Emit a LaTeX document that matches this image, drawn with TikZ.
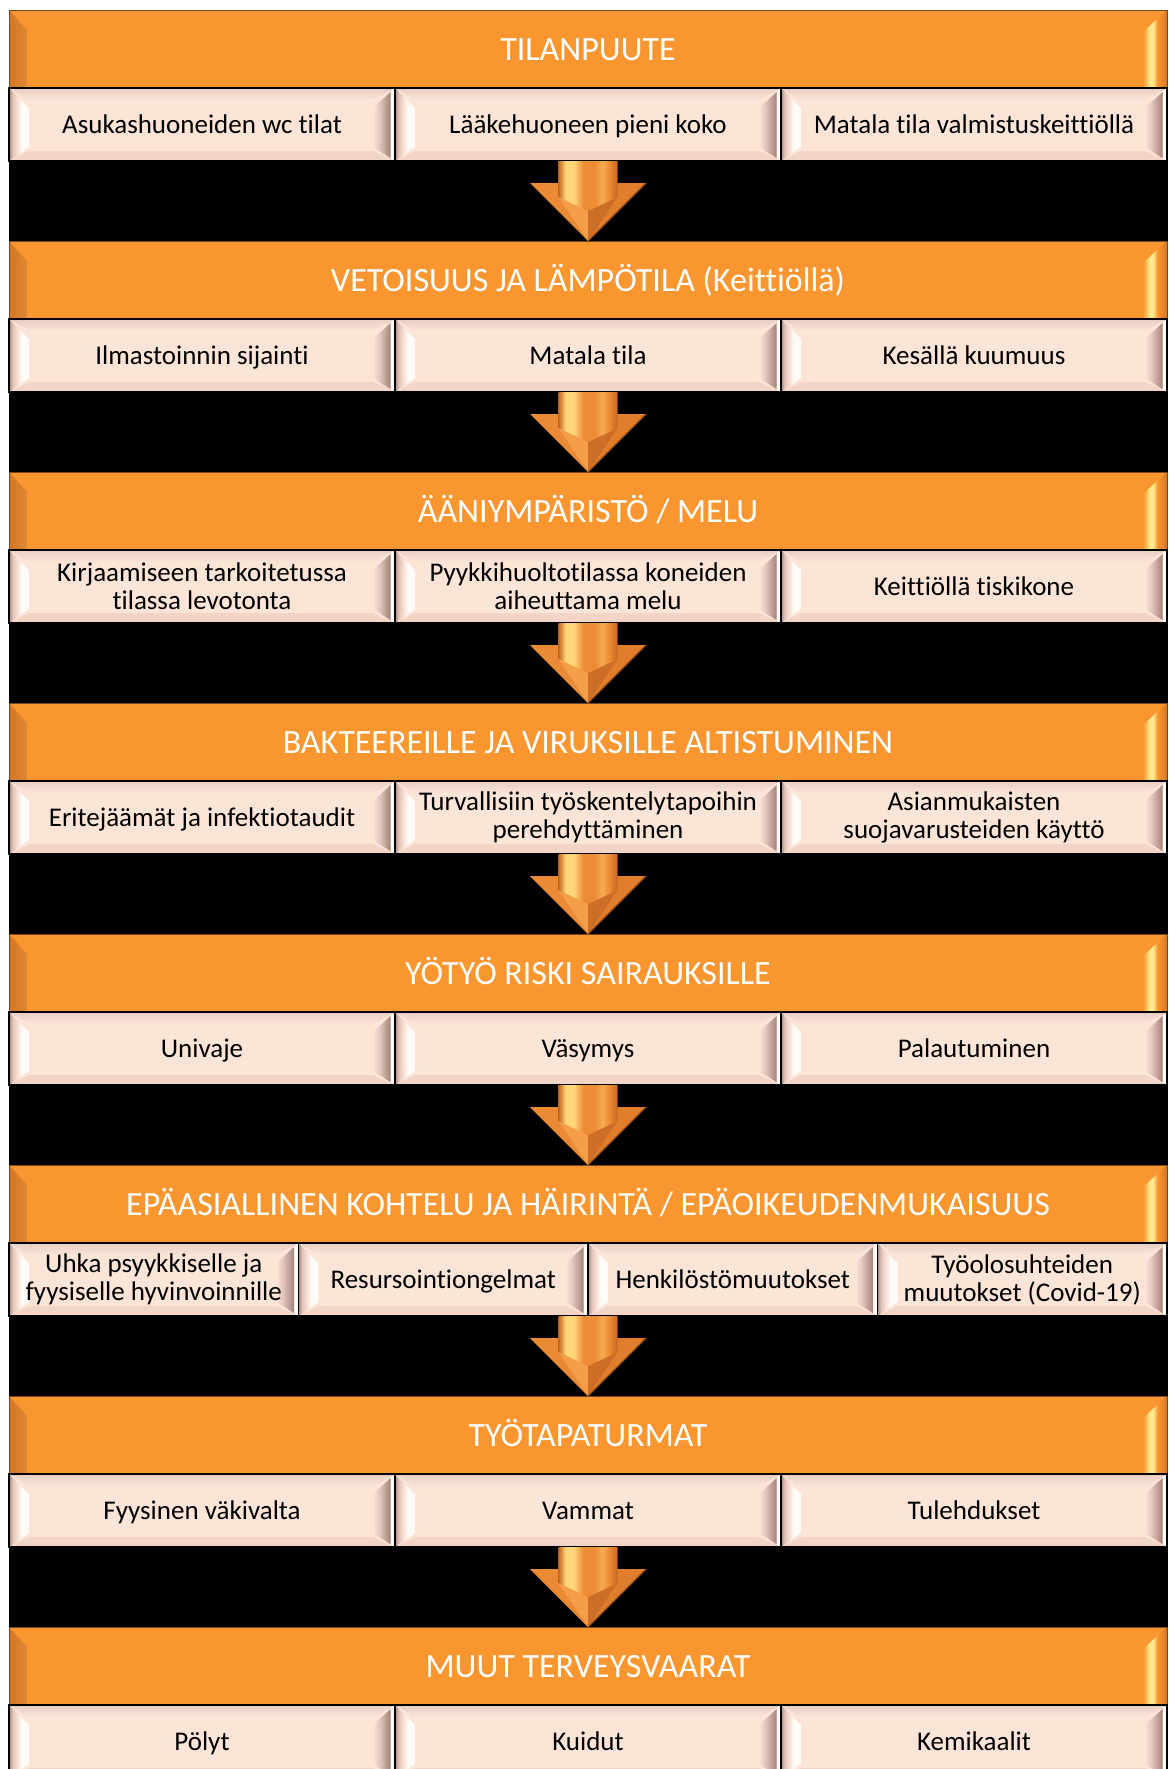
\documentclass[tikz,border=0pt]{standalone}
\usepackage{fontspec}
\setmainfont{Carlito}[Ligatures=NoCommon]
\usetikzlibrary{calc}

% palette
\definecolor{hdrorange}{RGB}{250,150,48}
\definecolor{hdrdark}{RGB}{214,118,36}
\definecolor{hdrlight}{RGB}{255,233,140}
\definecolor{hdrsoft}{RGB}{252,196,96}
\definecolor{hdredge}{RGB}{120,70,30}
\definecolor{boxpink}{RGB}{252,228,215}
\definecolor{cellgrey}{RGB}{168,136,126}
\definecolor{cellmid}{RGB}{226,196,186}
\definecolor{celltop}{RGB}{232,206,196}
\definecolor{cellbot}{RGB}{243,213,200}
\definecolor{cellhi}{RGB}{255,251,248}
\definecolor{arrowdark}{RGB}{196,102,34}
\definecolor{arrowlight}{RGB}{255,214,122}
\definecolor{arrowmid}{RGB}{236,140,52}
\definecolor{arrowsoft}{RGB}{246,172,86}
\definecolor{headleft}{RGB}{234,138,52}
\definecolor{headright}{RGB}{224,126,44}
\definecolor{facetlight}{RGB}{244,158,74}
\definecolor{facetdark}{RGB}{204,110,40}
\definecolor{arrowedge}{RGB}{150,78,26}

% bevel shadings (the 25bp..75bp band spans the filled path)
\pgfdeclarehorizontalshading{hdrleft}{100bp}{color(0bp)=(hdrdark); color(25bp)=(hdrdark); color(30bp)=(hdrlight); color(44bp)=(hdrlight); color(62bp)=(hdrsoft); color(75bp)=(hdrorange); color(100bp)=(hdrorange)}
\pgfdeclarehorizontalshading{hdrright}{100bp}{color(0bp)=(hdrorange); color(25bp)=(hdrorange); color(33bp)=(hdrsoft); color(38bp)=(hdrlight); color(46bp)=(hdrlight); color(55bp)=(hdrorange); color(75bp)=(hdrdark); color(100bp)=(hdrdark)}
\pgfdeclarehorizontalshading{cellleft}{100bp}{color(0bp)=(cellgrey); color(25bp)=(cellgrey); color(34bp)=(cellmid); color(48bp)=(boxpink); color(56bp)=(cellhi); color(75bp)=(cellhi); color(100bp)=(cellhi)}
\pgfdeclarehorizontalshading{cellright}{100bp}{color(0bp)=(boxpink); color(25bp)=(boxpink); color(40bp)=(cellmid); color(63bp)=(cellgrey); color(65bp)=(cellhi); color(75bp)=(cellhi); color(100bp)=(cellhi)}
\pgfdeclarehorizontalshading{shaftshade}{100bp}{color(0bp)=(arrowdark); color(25bp)=(arrowdark); color(31bp)=(arrowlight); color(38bp)=(arrowlight); color(46bp)=(arrowmid); color(56bp)=(arrowmid); color(62bp)=(arrowsoft); color(68bp)=(arrowmid); color(75bp)=(arrowdark); color(100bp)=(arrowdark)}

\tikzset{
  hdr/.style={draw=hdredge, line width=0.8pt, fill=hdrorange,
    minimum width=1158pt, minimum height=78pt, inner sep=0pt, outer sep=0pt,
    anchor=north west, text=white, font=\fontsize{34}{40}\selectfont,
    text height=22pt, text depth=0pt,
    path picture={
      \shade[shading=hdrleft] let \p1=(path picture bounding box.north west),
        \p2=(path picture bounding box.south east) in
        (\x1,\y1) -- (\x1+18pt,\y1-20pt) -- (\x1+18pt,\y2) -- (\x1,\y2) -- cycle;
      \shade[shading=hdrright] let \p1=(path picture bounding box.north west),
        \p2=(path picture bounding box.south east) in
        (\x2,\y1) -- (\x2-24pt,\y1-22pt) -- (\x2-24pt,\y2) -- (\x2,\y2) -- cycle;
    }},
  cell/.style={draw=black, line width=1.2pt, fill=boxpink,
    minimum height=73pt, inner sep=0pt, outer sep=0pt,
    anchor=north west, align=center, text=black,
    font=\fontsize{27}{28}\selectfont,
    path picture={
      \fill[cellbot] let \p1=(path picture bounding box.north west),
        \p2=(path picture bounding box.south east) in
        (\x1,\y2) -- (\x2,\y2) -- (\x2-22pt,\y2+10pt) -- (\x1+20pt,\y2+10pt) -- cycle;
      \shade[top color=celltop, bottom color=boxpink] let \p1=(path picture bounding box.north west),
        \p2=(path picture bounding box.south east) in
        (\x1,\y1) -- (\x2,\y1) -- (\x2-22pt,\y1-12pt) -- (\x1+20pt,\y1-12pt) -- cycle;
      \shade[shading=cellleft] let \p1=(path picture bounding box.north west),
        \p2=(path picture bounding box.south east) in
        (\x1,\y1) -- (\x1+20pt,\y1-20pt) -- (\x1+20pt,\y2+14pt) -- (\x1,\y2) -- cycle;
      \shade[shading=cellright] let \p1=(path picture bounding box.north west),
        \p2=(path picture bounding box.south east) in
        (\x2,\y1) -- (\x2-22pt,\y1-20pt) -- (\x2-22pt,\y2+14pt) -- (\x2,\y2) -- cycle;
    }},
  cellthree/.style={cell, minimum width=386pt},
  cellfour/.style={cell, minimum width=289.5pt},
  oneline/.style={text height=17.5pt, text depth=0pt},
}

% bevelled block arrow from a row's lower edge (#1) down to the next header (#2)
\newcommand{\flowarrow}[2]{%
  \fill[headleft] ($(#2.north)+(-58pt,58pt)$) -- ($(#2.north)+(0pt,58pt)$) -- (#2.north) -- cycle;
  \fill[headright] ($(#2.north)+(0pt,58pt)$) -- ($(#2.north)+(58pt,58pt)$) -- (#2.north) -- cycle;
  \fill[facetlight] ($(#2.north)+(-29.5pt,44pt)$) -- ($(#2.north)+(0pt,30pt)$) -- (#2.north) -- cycle;
  \fill[facetdark] ($(#2.north)+(29.5pt,44pt)$) -- ($(#2.north)+(0pt,30pt)$) -- (#2.north) -- cycle;
  \draw[arrowedge, line width=1.2pt] ($(#2.north)+(58pt,58pt)$) -- (#2.north);
  \shade[shading=shaftshade] ($(#1)+(-29.5pt,0pt)$) -- ($(#1)+(29.5pt,0pt)$)
    -- ($(#2.north)+(29.5pt,44pt)$) -- ($(#2.north)+(0pt,30pt)$)
    -- ($(#2.north)+(-29.5pt,44pt)$) -- cycle;
}

\begin{document}
\begin{tikzpicture}[x=1pt,y=-1pt]
\useasboundingbox (0,0) rectangle (1168,1769);
\clip (0,0) rectangle (1168,1769);
\fill[black] (9,10) rectangle (1168,1769);

% 1
\node[hdr] (h1) at (9,10) {TILANPUUTE};
\node[cellthree,oneline] (c1a) at (9,88) {Asukashuoneiden wc tilat};
\node[cellthree,oneline] (c1b) at (395,88) {Lääkehuoneen pieni koko};
\node[cellthree,oneline] (c1c) at (781,88) {Matala tila valmistuskeittiöllä};

% 2
\node[hdr] (h2) at (9,241) {VETOISUUS JA LÄMPÖTILA (Keittiöllä)};
\node[cellthree,oneline] (c2a) at (9,319) {Ilmastoinnin sijainti};
\node[cellthree,oneline] (c2b) at (395,319) {Matala tila};
\node[cellthree,oneline] (c2c) at (781,319) {Kesällä kuumuus};

% 3
\node[hdr] (h3) at (9,472) {ÄÄNIYMPÄRISTÖ / MELU};
\node[cellthree] (c3a) at (9,550) {Kirjaamiseen tarkoitetussa\\tilassa levotonta};
\node[cellthree] (c3b) at (395,550) {Pyykkihuoltotilassa koneiden\\aiheuttama melu};
\node[cellthree,oneline] (c3c) at (781,550) {Keittiöllä tiskikone};

% 4
\node[hdr] (h4) at (9,703) {BAKTEEREILLE JA VIRUKSILLE ALTISTUMINEN};
\node[cellthree,oneline] (c4a) at (9,781) {Eritejäämät ja infektiotaudit};
\node[cellthree] (c4b) at (395,781) {Turvallisiin työskentelytapoihin\\perehdyttäminen};
\node[cellthree] (c4c) at (781,781) {Asianmukaisten\\suojavarusteiden käyttö};

% 5
\node[hdr] (h5) at (9,934) {YÖTYÖ RISKI SAIRAUKSILLE};
\node[cellthree,oneline] (c5a) at (9,1012) {Univaje};
\node[cellthree,oneline] (c5b) at (395,1012) {Väsymys};
\node[cellthree,oneline] (c5c) at (781,1012) {Palautuminen};

% 6
\node[hdr] (h6) at (9,1165) {EPÄASIALLINEN KOHTELU JA HÄIRINTÄ / EPÄOIKEUDENMUKAISUUS};
\node[cellfour] (c6a) at (9,1243) {Uhka psyykkiselle ja\\fyysiselle hyvinvoinnille};
\node[cellfour,oneline] (c6b) at (298.5,1243) {Resursointiongelmat};
\node[cellfour,oneline] (c6c) at (588,1243) {Henkilöstömuutokset};
\node[cellfour] (c6d) at (877.5,1243) {Työolosuhteiden\\muutokset (Covid-19)};

% 7
\node[hdr] (h7) at (9,1396) {TYÖTAPATURMAT};
\node[cellthree,oneline] (c7a) at (9,1474) {Fyysinen väkivalta};
\node[cellthree,oneline] (c7b) at (395,1474) {Vammat};
\node[cellthree,oneline] (c7c) at (781,1474) {Tulehdukset};

% 8
\node[hdr] (h8) at (9,1627) {MUUT TERVEYSVAARAT};
\node[cellthree,oneline] (c8a) at (9,1705) {Pölyt};
\node[cellthree,oneline] (c8b) at (395,1705) {Kuidut};
\node[cellthree,oneline] (c8c) at (781,1705) {Kemikaalit};

% arrows between the sections
\coordinate (a1) at (h1.south |- c1a.south);
\coordinate (a2) at (h2.south |- c2a.south);
\coordinate (a3) at (h3.south |- c3a.south);
\coordinate (a4) at (h4.south |- c4a.south);
\coordinate (a5) at (h5.south |- c5a.south);
\coordinate (a6) at (h6.south |- c6a.south);
\coordinate (a7) at (h7.south |- c7a.south);
\flowarrow{a1}{h2}
\flowarrow{a2}{h3}
\flowarrow{a3}{h4}
\flowarrow{a4}{h5}
\flowarrow{a5}{h6}
\flowarrow{a6}{h7}
\flowarrow{a7}{h8}
\end{tikzpicture}
\end{document}
